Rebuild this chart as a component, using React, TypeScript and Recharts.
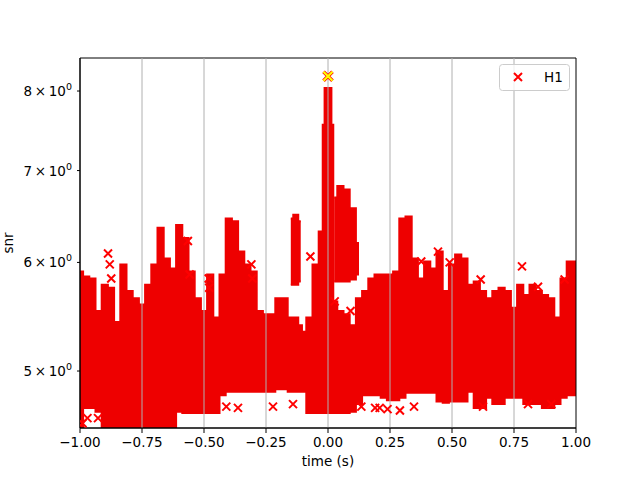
import React from 'react';
import {
  ComposedChart, Area, Scatter, XAxis, YAxis, ReferenceLine, ReferenceArea, Legend,
} from 'recharts';

// ---- data ----
const TIME = [
  -1.0, -0.975, -0.95, -0.925, -0.9, -0.875, -0.85, -0.825, -0.8, -0.775, -0.75, -0.725,
  -0.7, -0.675, -0.65, -0.625, -0.6, -0.575, -0.55, -0.525, -0.5, -0.475, -0.45, -0.425,
  -0.4, -0.375, -0.35, -0.325, -0.3, -0.275, -0.25, -0.225, -0.2, -0.175, -0.15, -0.13,
  -0.11, -0.1, -0.075, -0.05, -0.025, -0.0175, -0.01, 0.0, 0.01, 0.0175, 0.025, 0.05,
  0.075, 0.1, 0.125, 0.15, 0.175, 0.2, 0.225, 0.25, 0.275, 0.3, 0.325, 0.35, 0.375, 0.4,
  0.425, 0.45, 0.475, 0.5, 0.525, 0.55, 0.575, 0.6, 0.625, 0.65, 0.675, 0.7, 0.725, 0.75,
  0.775, 0.8, 0.825, 0.85, 0.875, 0.9, 0.925, 0.95, 0.975, 1.0,
];
const SNR_LOW = [
  4.55, 4.70, 4.70, 4.67, 4.55, 4.55, 4.55, 4.55, 4.55, 4.55, 4.55, 4.55,
  4.55, 4.55, 4.55, 4.55, 4.67, 4.66, 4.66, 4.66, 4.66, 4.66, 4.66, 4.80,
  4.83, 4.83, 4.83, 4.83, 4.83, 4.83, 4.83, 4.83, 4.85, 4.85, 4.83, 4.83,
  4.83, 4.83, 4.66, 4.66, 4.66, 4.66, 4.66, 4.66, 4.66, 4.66, 4.66, 4.66,
  4.66, 4.67, 4.73, 4.80, 4.80, 4.80, 4.78, 4.76, 4.76, 4.78, 4.82, 4.82, 4.82, 4.82,
  4.82, 4.75, 4.74, 4.75, 4.75, 4.75, 4.83, 4.70, 4.70, 4.78, 4.73, 4.73, 4.78, 4.78,
  4.78, 4.73, 4.73, 4.73, 4.70, 4.70, 4.73, 4.78, 4.80, 4.80,
];
const SNR_HIGH = [
  5.91, 5.86, 5.84, 5.53, 5.78, 5.75, 5.43, 5.98, 5.72, 5.65, 5.59, 5.78,
  5.98, 6.36, 6.04, 5.94, 6.39, 6.25, 5.91, 5.65, 5.53, 5.88, 5.47, 5.88,
  6.46, 6.43, 6.11, 5.98, 5.91, 5.53, 5.50, 5.50, 5.65, 5.65, 5.47, 5.47,
  5.40, 5.34, 5.47, 5.98, 6.32, 7.56, 8.04, 8.04, 8.04, 7.56, 5.62, 5.53,
  5.50, 5.40, 5.65, 5.72, 5.84, 5.88, 5.88, 5.88, 5.91, 6.46, 6.48, 6.04, 5.84, 6.01,
  5.94, 6.11, 5.72, 5.98, 6.08, 6.04, 5.78, 5.81, 5.72, 5.65, 5.72, 5.75, 5.72, 5.56,
  5.78, 5.68, 5.78, 5.72, 5.68, 5.65, 5.47, 5.84, 6.01, 6.01,
];

// floating clusters of triggers above the main band
const BURST_TIME = [-0.15, -0.13, -0.11, 0.025, 0.05, 0.075, 0.1, 0.125];
const BURST_LOW = [5.78, 5.78, 5.81, 5.81, 5.81, 5.81, 5.83, 5.88];
const BURST_HIGH = [6.46, 6.50, 6.43, 6.69, 6.82, 6.78, 6.57, 6.20];

// isolated triggers
const OUTLIER_TIME = [
  -0.887, -0.880, -0.874, -0.565, -0.558, -0.481, -0.479, -0.309, -0.305, -0.071,
  0.027, 0.091, 0.376, 0.4435, 0.4906, 0.6156, 0.7823, 0.8468, 0.954,
  -0.9274, -0.41, -0.363, -0.2218, -0.1411, 0.1344, 0.2083, 0.3468, 0.625, 0.8065, 0.9005,
  -0.99, -0.97, 0.19, 0.24, 0.29,
];
const OUTLIER_SNR = [
  6.09, 5.98, 5.84, 6.22, 5.88, 5.84, 5.75, 5.98, 5.84, 6.06,
  5.62, 5.53, 6.01, 6.11, 6.00, 5.83, 5.96, 5.76, 5.83,
  4.62, 4.71, 4.70, 4.71, 4.73, 4.71, 4.70, 4.71, 4.71, 4.73, 4.73,
  4.58, 4.62, 4.70, 4.69, 4.68,
];

const LOUDEST_TIME = [0.0];
const LOUDEST_SNR = [8.2];

const X_TICKS = [-1, -0.75, -0.5, -0.25, 0, 0.25, 0.5, 0.75, 1];
const Y_TICKS = [5, 6, 7, 8];
const Y_DOMAIN: [number, number] = [4.544, 8.456];

// ---- tables built from the arrays ----
const table = TIME.map((t, i) => {
  const j = BURST_TIME.indexOf(t);
  return {
    t,
    low: SNR_LOW[i],
    high: SNR_HIGH[i],
    bLow: j >= 0 ? BURST_LOW[j] : null,
    bHigh: j >= 0 ? BURST_HIGH[j] : null,
  };
});
const outliers = OUTLIER_TIME.map((t, i) => ({ t, v: OUTLIER_SNR[i] }));
const loudest = LOUDEST_TIME.map((t, i) => ({ t, v: LOUDEST_SNR[i] }));

const RED = '#ee0000';
const FONT = 'DejaVu Sans';

const Cross = (props: any) => {
  const { cx, cy } = props;
  if (cx == null || cy == null) return null;
  const r = 4;
  return (
    <path
      d={`M${cx - r},${cy - r}L${cx + r},${cy + r}M${cx - r},${cy + r}L${cx + r},${cy - r}`}
      stroke="#ff0000"
      strokeWidth={2}
      fill="none"
    />
  );
};

const YellowCross = (props: any) => {
  const { cx, cy } = props;
  if (cx == null || cy == null) return null;
  const r = 4.5;
  const d = `M${cx - r},${cy - r}L${cx + r},${cy + r}M${cx - r},${cy + r}L${cx + r},${cy - r}`;
  return (
    <g>
      <path d={d} stroke="#ff0000" strokeWidth={3.6} fill="none" />
      <path d={d} stroke="#ffff00" strokeWidth={2.2} fill="none" />
    </g>
  );
};

const fmtX = (v: number) => (v < 0 ? '\u2212' : '') + Math.abs(v).toFixed(2);

const YTick = (props: any) => {
  const { x, y, payload } = props;
  return (
    <text x={x} y={y} dy={5} textAnchor="end" fontFamily={FONT} fontSize={13.5} fill="#000">
      {`${payload.value}\u2009\u00d7\u200910`}
      <tspan dy={-6} fontSize={9.5}>0</tspan>
    </text>
  );
};

const LegendBox = () => (
  <svg width={71} height={27} style={{ display: 'block' }}>
    <rect x={0.5} y={0.5} width={70} height={26} rx={3} ry={3} fill="rgba(255,255,255,0.8)" stroke="#cccccc" />
    <path d="M15,9L23,17M15,17L23,9" stroke="#ff0000" strokeWidth={2} fill="none" />
    <text x={45} y={18} fontFamily={FONT} fontSize={13.5} fill="#000">H1</text>
  </svg>
);

export default function App() {
  return (
    <div style={{ position: 'absolute', left: 0, top: 0, width: 640, height: 480, background: '#fff' }}>
      <ComposedChart
        width={640}
        height={480}
        data={table}
        margin={{ top: 58, right: 64, bottom: 0, left: 0 }}
      >
        <XAxis
          type="number"
          dataKey="t"
          domain={[-1, 1]}
          ticks={X_TICKS}
          tickFormatter={fmtX}
          allowDataOverflow
          height={52}
          tickSize={5}
          tickMargin={4}
          stroke="#000"
          tick={{ fill: '#000', fontFamily: FONT, fontSize: 13.5 }}
          label={() => (
            <text x={328} y={466} textAnchor="middle" fontFamily={FONT} fontSize={13.5} fill="#000">
              time (s)
            </text>
          )}
        />
        <YAxis
          type="number"
          scale="log"
          domain={Y_DOMAIN}
          ticks={Y_TICKS}
          allowDataOverflow
          width={80}
          tickSize={3}
          tickMargin={5}
          stroke="#000"
          tick={<YTick />}
          label={() => (
            <text
              x={13}
              y={243}
              transform="rotate(-90 13 243)"
              textAnchor="middle"
              fontFamily={FONT}
              fontSize={13.5}
              fill="#000"
            >
              snr
            </text>
          )}
        />
        <Area
          type="step"
          dataKey={(d: any) => [d.low, d.high]}
          stroke={RED}
          strokeWidth={2}
          fill={RED}
          fillOpacity={1}
          isAnimationActive={false}
          dot={false}
          activeDot={false}
          legendType="none"
        />
        <Area
          type="step"
          dataKey={(d: any) => (d.bHigh == null ? null : [d.bLow, d.bHigh])}
          stroke={RED}
          strokeWidth={2}
          fill={RED}
          fillOpacity={1}
          isAnimationActive={false}
          dot={false}
          activeDot={false}
          legendType="none"
        />
        <Scatter data={outliers} dataKey="v" shape={<Cross />} isAnimationActive={false} legendType="none" />
        <Scatter data={loudest} dataKey="v" shape={<YellowCross />} isAnimationActive={false} legendType="none" />
        {X_TICKS.slice(1, -1).map((t) => (
          <ReferenceLine key={t} x={t} stroke="#b0b0b0" strokeWidth={1} />
        ))}
        <ReferenceArea
          x1={-1}
          x2={1}
          y1={Y_DOMAIN[0]}
          y2={Y_DOMAIN[1]}
          fill="none"
          fillOpacity={0}
          stroke="#000"
          strokeWidth={1}
          ifOverflow="visible"
        />
        <Legend
          layout="vertical"
          align="center"
          verticalAlign="middle"
          content={() => <LegendBox />}
          wrapperStyle={{ position: 'absolute', left: 499, top: 64, width: 71, height: 27 }}
        />
      </ComposedChart>
    </div>
  );
}
